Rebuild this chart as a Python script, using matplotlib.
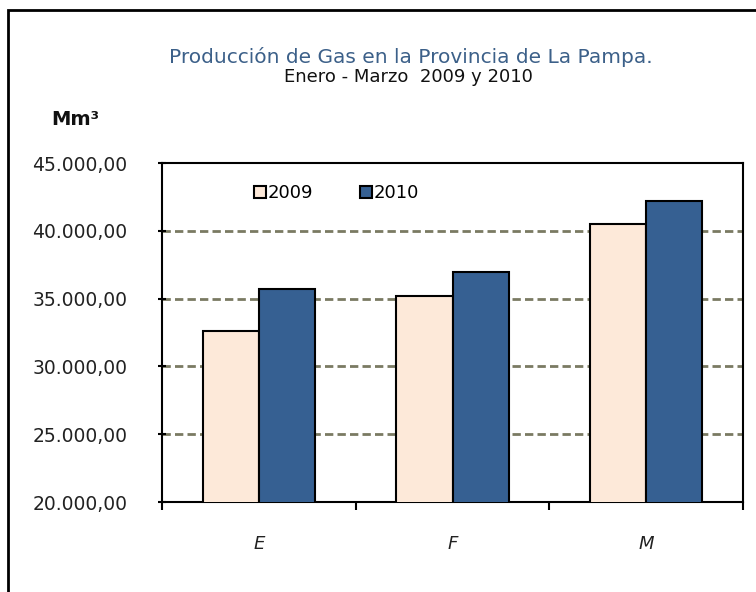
import matplotlib.pyplot as plt
import numpy as np
from matplotlib.patches import Rectangle

plt.rcParams['font.family'] = ['DejaVu Sans']

meses = ["E", "F", "M"]
prod_2009 = [32600, 35200, 40500]
prod_2010 = [35700, 37000, 42200]
y_ticks = [20000, 25000, 30000, 35000, 40000, 45000]

def fmt(v):
    # formato espanol: 45.000,00
    s = "{:,.2f}".format(v)
    return s.replace(",", "X").replace(".", ",").replace("X", ".")

fig = plt.figure(figsize=(7.56, 5.92), dpi=100)
ax = fig.add_axes([0.2143, 0.152, 0.7685, 0.5725])

x = np.arange(len(meses))
w = 0.29
ax.bar(x - w / 2, prod_2009, w, color="#fde9d9", edgecolor="black", linewidth=1.5, label="2009", zorder=3)
ax.bar(x + w / 2, prod_2010, w, color="#366092", edgecolor="black", linewidth=1.5, label="2010", zorder=3)

ax.set_xlim(-0.5, 2.5)
ax.set_ylim(20000, 45000)
ax.set_yticks(y_ticks)
ax.set_yticklabels([fmt(v) for v in y_ticks], fontsize=13.5, color="#222222")
ax.set_xticks(x)
ax.set_xticklabels(meses, fontsize=13, style="italic", color="#222222")
ax.set_xticks([-0.5, 0.5, 1.5, 2.5], minor=True)
ax.tick_params(axis="x", which="major", length=0, pad=24)
ax.tick_params(axis="x", which="minor", length=6, width=1.5, direction="out")
ax.tick_params(axis="y", length=6, width=1.5, direction="inout", pad=22)

for yv in y_ticks[1:-1]:
    ax.axhline(yv, color="#7a7a62", linestyle=(0, (3, 1.5)), linewidth=2, zorder=1)

for s in ax.spines.values():
    s.set_linewidth(1.5)

leg = ax.legend(loc="upper left", bbox_to_anchor=(0.13, 0.985), ncol=2, frameon=False,
                fontsize=13, handlelength=0.7, handleheight=0.7, handletextpad=0.05,
                columnspacing=2.6)

fig.text(0.543, 0.8936, "Producción de Gas en la Provincia de La Pampa.", ha="center",
         va="baseline", fontsize=14.5, color="#3c6089")
fig.text(0.540, 0.8615, "Enero - Marzo  2009 y 2010", ha="center", va="baseline",
         fontsize=13, color="#111111")
fig.text(0.068, 0.789, "Mm³", fontsize=14, fontweight="bold", color="#111111", va="baseline")

# marco exterior del grafico
fig.patches.append(Rectangle((0.01, -0.05), 1.2, 1.033, transform=fig.transFigure,
                             fill=False, edgecolor="black", linewidth=2))

plt.savefig("out.png", dpi=100)
